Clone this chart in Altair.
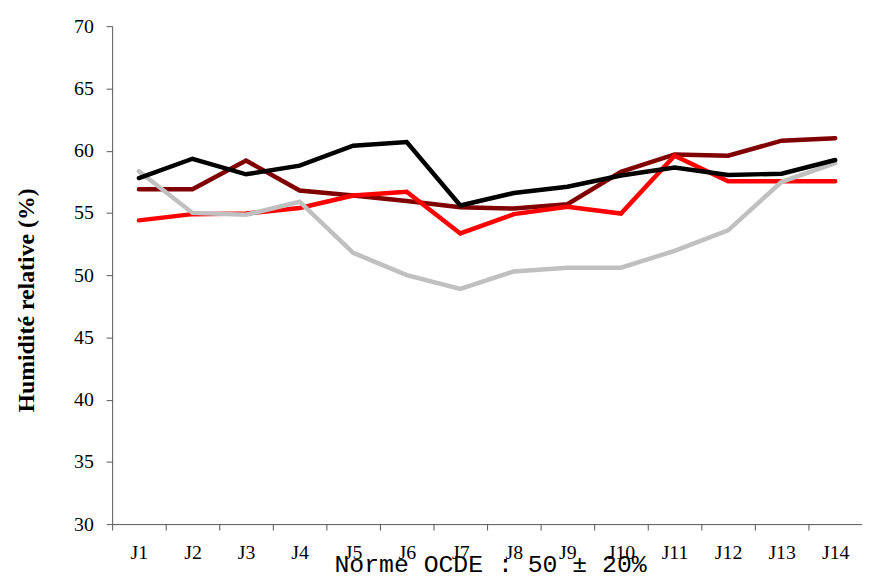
import altair as alt
import pandas as pd

jours = [f"J{i}" for i in range(1, 15)]
serie_noire = [57.8, 59.35, 58.1, 58.8, 60.4, 60.7, 55.6, 56.6, 57.1, 58.0, 58.65, 58.05, 58.15, 59.25]
serie_bordeaux = [56.9, 56.9, 59.2, 56.8, 56.4, 55.95, 55.45, 55.35, 55.7, 58.3, 59.7, 59.6, 60.8, 61.0]
serie_rouge = [54.4, 54.9, 54.95, 55.4, 56.4, 56.7, 53.35, 54.9, 55.5, 54.95, 59.6, 57.55, 57.55, 57.55]
serie_grise = [58.35, 55.0, 54.85, 55.9, 51.8, 50.0, 48.9, 50.3, 50.6, 50.6, 51.95, 53.6, 57.5, 59.0]

noms = ["Série 1", "Série 2", "Série 3", "Série 4"]
valeurs = [serie_bordeaux, serie_rouge, serie_grise, serie_noire]
couleurs = ["#800000", "#ff0000", "#c0c0c0", "#000000"]

rows = []
for nom, vals in zip(noms, valeurs):
    for j, v in zip(jours, vals):
        rows.append({"jour": j, "serie": nom, "valeur": v})
df = pd.DataFrame(rows)

axis_col = "#555555"

x_enc = alt.X(
    "jour:N",
    sort=jours,
    bandPosition=0.5,
    scale=alt.Scale(type="band", domain=jours, paddingInner=0, paddingOuter=0),
    axis=alt.Axis(
        title="Norme OCDE : 50 ± 20%",
        titleFont="'Courier New', 'Liberation Mono', monospace",
        titleFontSize=25,
        titleFontWeight="normal",
        titleColor="#000000",
        titleX=381,
        titleY=48,
        titleAlign="center",
        titleBaseline="alphabetic",
        tickBand="extent",
        labelAngle=0,
        labelFont="Liberation Serif",
        labelFontSize=20,
        labelColor="#000000",
        labelBaseline="middle",
        labelPadding=23,
        tickSize=6,
        tickColor=axis_col,
        domainColor=axis_col,
        grid=False,
    ),
)

y_enc = alt.Y(
    "valeur:Q",
    scale=alt.Scale(domain=[30, 70], nice=False, zero=False),
    axis=alt.Axis(
        title="Humidité relative (%)",
        titleFont="Liberation Serif",
        titleFontSize=24,
        titleFontWeight="bold",
        titleColor="#000000",
        titleAngle=-90,
        titleX=-86,
        titleY=276,
        titleAlign="center",
        titleBaseline="middle",
        values=list(range(30, 71, 5)),
        labelFont="Liberation Serif",
        labelFontSize=20,
        labelColor="#000000",
        labelPadding=13,
        tickSize=6,
        tickColor=axis_col,
        domainColor=axis_col,
        grid=False,
    ),
)

layers = []
for nom, col in zip(noms, couleurs):
    layers.append(
        alt.Chart(df)
        .transform_filter(alt.datum.serie == nom)
        .mark_line(color=col, strokeWidth=4.5, strokeCap="round")
        .encode(x=x_enc, y=y_enc)
    )

chart = (
    alt.layer(*layers)
    .properties(
        width=756,
        height=502,
        autosize=alt.AutoSizeParams(type="none"),
        padding={"left": 105, "top": 16, "right": 0, "bottom": 53},
        background="white",
    )
    .configure_view(stroke=None)
)

chart.save("out.html", embed_options={"renderer": "svg", "actions": False})
